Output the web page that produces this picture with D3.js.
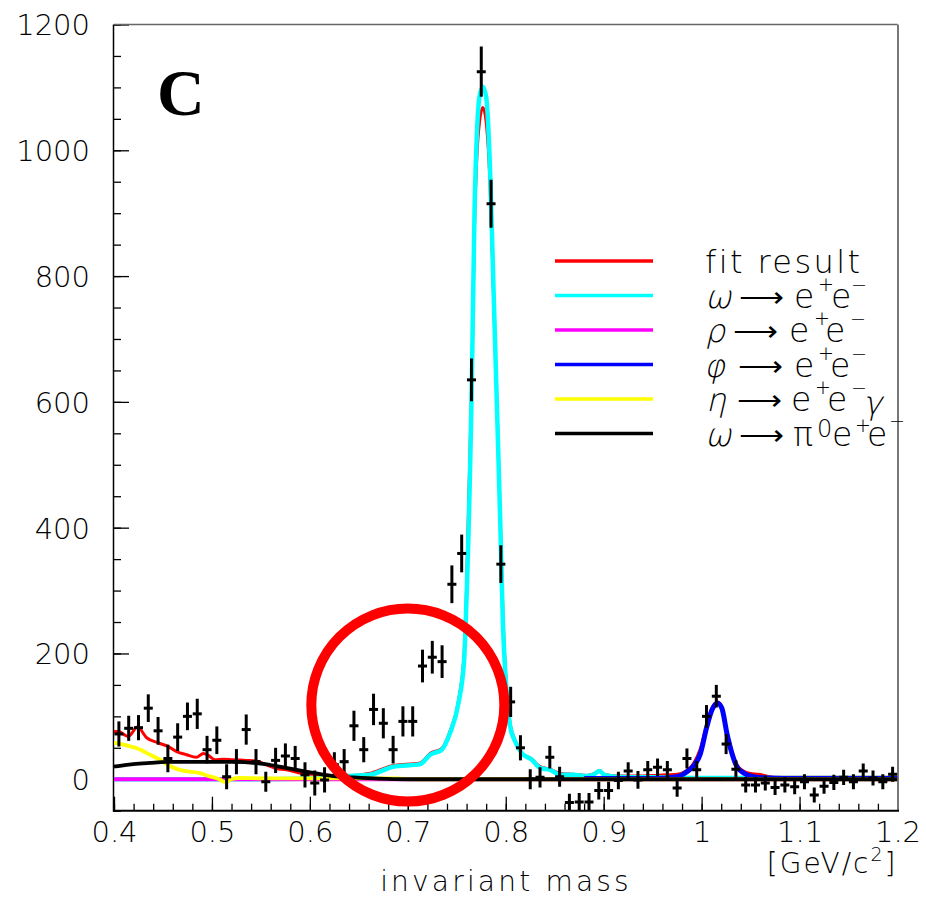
<!DOCTYPE html>
<html><head><meta charset="utf-8">
<script src="https://cdn.jsdelivr.net/npm/d3@7"></script>
<style>
body{margin:0;background:#fff}
svg{display:block}
.lbl{font-family:"DejaVu Sans",sans-serif;font-weight:200;fill:#000}
</style>
</head><body>
<svg id="chart" width="926" height="899"></svg>
<script>
// ---------- data ----------
const binCenters = d3.range(80).map(i => +(0.405 + i * 0.01).toFixed(3));
const counts = [72,81,82,113,77,33,67,100,104,47,
  62,4,28,79,28,-4,30,37,33,7,
  -6,-1,23,28,85,47,111,89,47,92,
  92,180,194,187,310,359,635,1125,915,342,
  123,50,0,3,35,4,-37,-36,-36,-18,
  -18,-2,13,-1,15,19,15,-14,33,15,
  100,132,56,16,-9,-9,-6,-13,-9,-12,
  -4,-25,-11,-5,3,-4,13,2,-4,8];
const errors = [20,20,20,22,22,22,22,22,24,22,
  22,20,20,24,20,16,20,20,20,20,
  20,20,20,20,24,20,25,24,22,24,
  24,26,26,26,30,30,34,40,38,30,
  24,20,16,16,18,16,14,14,14,14,
  14,14,14,14,14,14,14,14,16,14,
  18,18,16,14,12,12,12,12,12,12,
  12,12,12,12,12,12,12,12,12,12];

const fitCurve = [[0.4,76],[0.4044,76],[0.4146,68],[0.424,83],[0.4333,66],[0.445,58],[0.4555,52],[0.464,44],[0.474,39],[0.484,35],[0.4913,41],[0.4963,38],[0.503,31],[0.5115,32],[0.5215,31],[0.535,30],[0.5453,29],[0.5555,23],[0.5657,17],[0.5759,15],[0.5895,10],[0.603,8],[0.6235,6],[0.644,6],[0.66,9],[0.685,22],[0.7126,26],[0.7228,41],[0.7347,49],[0.743,76],[0.7517,125],[0.7575,200],[0.7592,260],[0.7654,640],[0.7681,880],[0.7705,990],[0.7732,1045],[0.7766,1068],[0.78,1045],[0.7841,940],[0.7875,770],[0.7909,600],[0.7943,420],[0.797,270],[0.801,140],[0.8045,88],[0.8096,62],[0.8164,42],[0.8267,32],[0.835,20],[0.8453,16],[0.8556,9],[0.869,8],[0.8828,6],[0.8903,9],[0.8958,14],[0.9005,8],[0.9135,5],[0.93,5],[0.95,6],[0.965,7],[0.975,8],[0.985,14],[0.9917,25],[0.9986,48],[1.0054,88],[1.0105,113],[1.0163,123],[1.0207,115],[1.0258,76],[1.031,44],[1.036,23],[1.0428,13],[1.05,9],[1.058,8],[1.0667,5],[1.08,3],[1.1,3],[1.15,3],[1.2,3]];
const omegaCurve = [[0.4,0],[0.55,0],[0.6,1],[0.636,5],[0.661,7],[0.685,20],[0.7126,24],[0.7228,39],[0.7347,47],[0.743,73],[0.7517,121],[0.7575,190],[0.7592,253],[0.7654,635],[0.7681,902],[0.7705,1024],[0.7732,1085],[0.7766,1101],[0.78,1085],[0.7841,964],[0.7875,781],[0.7909,598],[0.7943,415],[0.797,253],[0.801,137],[0.8045,84],[0.8096,60],[0.8164,41],[0.8267,31],[0.835,18],[0.8453,15],[0.8556,7],[0.869,7],[0.8828,5],[0.8903,8],[0.8958,13],[0.9005,7],[0.9135,4],[0.95,3],[1.0,2],[1.1,2],[1.2,2]];
const rhoCurve = [[0.4,0],[0.8,0],[1.2,0]];
const phiCurve = [[0.88,1],[0.95,1],[0.975,4],[0.985,12],[0.9917,21],[0.9986,40],[1.0054,84],[1.0105,110],[1.0163,121],[1.0207,113],[1.0258,73],[1.031,41],[1.036,20],[1.0428,10],[1.053,4],[1.0667,2],[1.1,1],[1.2,1]];
const etaCurve = [[0.4,58],[0.4044,57],[0.4146,53],[0.424,49],[0.4368,39],[0.4469,31],[0.457,21],[0.467,15],[0.477,12],[0.487,10],[0.497,5],[0.5075,0],[0.5143,-5],[0.5197,0],[0.528,2],[0.55,1.5],[0.6,1.5],[0.65,1.5],[0.69,1.5],[0.7,0],[1.2,0]];
const omegaDalitzCurve = [[0.4,20],[0.4044,21],[0.4197,24],[0.4368,26],[0.4538,27.5],[0.4878,27.5],[0.5219,27.5],[0.5457,25.5],[0.5662,21],[0.5866,15],[0.6036,10],[0.624,5],[0.6444,3],[0.67,1],[0.7,0],[1.2,0]];

const yTickValues = [0,200,400,600,800,1000,1200];
const yTickLabels = ["0","200","400","600","800","1000","1200"];
const xTickValues = [0.4,0.5,0.6,0.7,0.8,0.9,1.0,1.1,1.2];
const xTickLabels = ["0.4","0.5","0.6","0.7","0.8","0.9","1","1.1","1.2"];
const circleCenter = [0.7, 118];
const legendColors = ["#ff0000","#00ffff","#ff00ff","#0000ff","#ffff00","#000000"];

// ---------- scales ----------
const svg = d3.select("#chart");
const X0 = 114, X1 = 897.5, Ytop = 24.5, Ybot = 810.7;
const x = d3.scaleLinear().domain([0.4,1.2]).range([X0,X1]);
const y = d3.scaleLinear().domain([-50,1200]).range([Ybot,Ytop]);

svg.append("defs").append("clipPath").attr("id","clip")
  .append("rect").attr("x",X0).attr("y",Ytop).attr("width",X1-X0).attr("height",Ybot-Ytop);

// ---------- axes ----------
const fontSize = 29;
svg.append("g").attr("transform",`translate(${X0},0)`)
  .call(d3.axisLeft(y).tickValues(d3.range(-50,1201,50)).tickSize(-7).tickFormat(""))
  .call(g=>g.select(".domain").remove())
  .call(g=>g.selectAll("line").attr("stroke","#000").attr("stroke-width",1.3));
const yAx = svg.append("g").attr("transform",`translate(${X0},0)`)
  .call(d3.axisLeft(y).tickValues(yTickValues).tickSize(-15).tickPadding(24)
     .tickFormat((d,i)=>yTickLabels[i]));
yAx.select(".domain").remove();
yAx.selectAll("line").attr("stroke","#000").attr("stroke-width",1.3);
yAx.selectAll("text").attr("class","lbl").style("font-size",fontSize+"px").attr("dy","0.36em");

svg.append("g").attr("transform",`translate(0,${Ybot})`)
  .call(d3.axisBottom(x).tickValues(d3.range(0,41).map(i=>0.4+i*0.02)).tickSize(-7).tickFormat(""))
  .call(g=>g.select(".domain").remove())
  .call(g=>g.selectAll("line").attr("stroke","#000").attr("stroke-width",1.3));
const xAx = svg.append("g").attr("transform",`translate(0,${Ybot})`)
  .call(d3.axisBottom(x).tickValues(xTickValues).tickSize(-14).tickPadding(11)
     .tickFormat((d,i)=>xTickLabels[i]));
xAx.select(".domain").remove();
xAx.selectAll("line").attr("stroke","#000").attr("stroke-width",1.3);
xAx.selectAll("text").attr("class","lbl").style("font-size",fontSize+"px");

// frame
svg.append("line").attr("x1",X0).attr("x2",X1).attr("y1",Ytop).attr("y2",Ytop).attr("stroke","#666").attr("stroke-width",1.5);
svg.append("line").attr("x1",X1+0.5).attr("x2",X1+0.5).attr("y1",Ytop).attr("y2",Ybot).attr("stroke","#777").attr("stroke-width",2);
svg.append("line").attr("x1",X0-0.5).attr("x2",X0-0.5).attr("y1",Ytop).attr("y2",Ybot+1).attr("stroke","#000").attr("stroke-width",1.5);
svg.append("line").attr("x1",X0-1).attr("x2",X1+1.5).attr("y1",Ybot).attr("y2",Ybot).attr("stroke","#000").attr("stroke-width",2);

// axis titles
svg.append("text").attr("class","lbl").attr("x",X1).attr("y",873).attr("text-anchor","end")
  .style("font-size","28px").style("letter-spacing","2px")
  .call(t=>{t.append("tspan").text("[GeV/c");
            t.append("tspan").attr("dy",-12).style("font-size","19px").text("2");
            t.append("tspan").attr("dy",12).text("]");});
svg.append("text").attr("class","lbl").attr("x",506).attr("y",891).attr("text-anchor","middle")
  .style("font-size","28px").style("letter-spacing","3.2px").text("invariant mass");

// ---------- curves ----------
const plot = svg.append("g").attr("clip-path","url(#clip)");
const line = d3.line().x(d=>x(d[0])).y(d=>y(d[1])).curve(d3.curveMonotoneX);
const curves = [
  {data:fitCurve,color:legendColors[0],w:3},
  {data:omegaCurve,color:legendColors[1],w:4.5},
  {data:rhoCurve,color:legendColors[2],w:4},
  {data:phiCurve,color:legendColors[3],w:5},
  {data:etaCurve,color:legendColors[4],w:3.8},
  {data:omegaDalitzCurve,color:legendColors[5],w:3.8}
];
curves.forEach(c=>{
  plot.append("path").attr("d",line(c.data)).attr("fill","none")
    .attr("stroke",c.color).attr("stroke-width",c.w).attr("stroke-linejoin","round");
});

// ---------- data points ----------
const pts = plot.append("g").attr("stroke","#000").attr("stroke-width",3);
binCenters.forEach((c,i)=>{
  pts.append("line").attr("x1",x(c)).attr("x2",x(c))
    .attr("y1",y(counts[i]-errors[i])).attr("y2",y(counts[i]+errors[i]));
  pts.append("line").attr("x1",x(c-0.0046)).attr("x2",x(c+0.0046))
    .attr("y1",y(counts[i])).attr("y2",y(counts[i]));
});

// ---------- annotation circle ----------
svg.append("circle").attr("cx",x(circleCenter[0])).attr("cy",y(circleCenter[1])).attr("r",96.5)
  .attr("fill","none").attr("stroke","#ff0000").attr("stroke-width",10);

// ---------- panel label ----------
svg.append("text").attr("x",157).attr("y",115)
  .style("font-family","'Liberation Serif',serif").style("font-weight","bold").style("font-size","66px")
  .text("C");

// ---------- legend ----------
const lg = svg.append("g");
const rowY = [261,295.5,330,364.5,399,433.5];
rowY.forEach((ry,i)=>{
  lg.append("line").attr("x1",555).attr("x2",653).attr("y1",ry).attr("y2",ry)
    .attr("stroke",legendColors[i]).attr("stroke-width",3.5);
});
// segment kinds: g = greek (slanted), a = arrow, t = text, s = superscript
// [kind, text, x offset from legend text start, y offset from baseline]
const legendRows = [
  [["t","fit result",0,0]],
  [["g","ω",0,0],["a","⟶",34,-1],["t","e",89,0],["s","+",113,-17],["t","e",126,0],["s","−",146,-17]],
  [["g","ρ",0,0],["a","⟶",28,-1],["t","e",84,0],["s","+",109,-17],["t","e",120,0],["s","−",145,-17]],
  [["g","φ",-1,0],["a","⟶",33,-1],["t","e",89,0],["s","+",113,-17],["t","e",125,0],["s","−",146,-17]],
  [["g","η",1,0],["a","⟶",32,-1],["t","e",86,0],["s","+",110,-17],["t","e",122,0],["s","−",146,-17],["g","γ",158,3]],
  [["g","ω",0,0],["a","⟶",34,-1],["t","π",88,0],["s","0",112,-9],["t","e",127,0],["s","+",150,-14],["t","e",162,0],["s","−",184,-19]]
];
const LX = 705;
legendRows.forEach((segs,i)=>{
  const base = rowY[i] + 12;
  segs.forEach(s=>{
    const [kind,txt,dx,dy] = s;
    const t = lg.append("text").attr("class","lbl").text(txt);
    if(kind==="g"){
      t.attr("transform",`translate(${LX+dx},${base+dy}) skewX(-13)`).style("font-size","32px");
    } else {
      t.attr("x",LX+dx).attr("y",base+dy);
      if(kind==="t") t.style("font-size",i===0?"32px":"33px");
      if(kind==="s") t.style("font-size", txt==="0" ? "24px" : "19px");
      if(kind==="a") t.style("font-size","30px").attr("textLength",45).attr("lengthAdjust","spacingAndGlyphs");
      if(i===0) t.style("letter-spacing","2.4px");
    }
  });
});
</script>
</body></html>
